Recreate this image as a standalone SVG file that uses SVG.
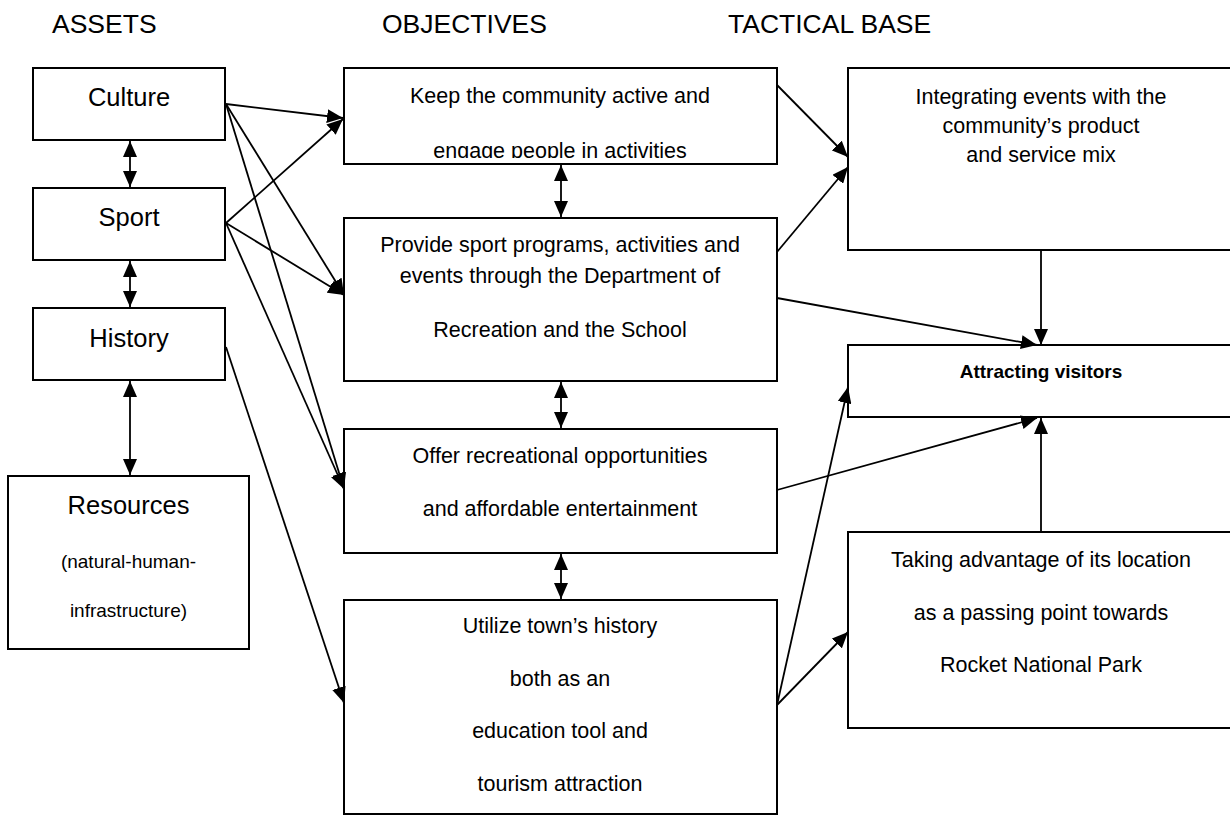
<svg xmlns="http://www.w3.org/2000/svg" width="1230" height="815" viewBox="0 0 1230 815">
<style>
text{font-family:"Liberation Sans",Arial,sans-serif;fill:#000;text-anchor:middle}
.hdr{font-size:26.5px;text-anchor:start}
.asset{font-size:25.5px}
.sub{font-size:19px}
.t{font-size:21.5px}
.b{font-size:19px;font-weight:bold}
.box{fill:#fff;stroke:#000;stroke-width:2}
.c{stroke:#000;stroke-width:1.8;fill:none}
</style>
<defs>
<marker id="ah" markerUnits="userSpaceOnUse" markerWidth="16" markerHeight="14" viewBox="0 0 16 14" refX="16" refY="7" orient="auto-start-reverse">
<path d="M0,0 L16,7 L0,14 z" fill="#000"/>
</marker>
<clipPath id="clipKeep"><rect x="344" y="68" width="433" height="90"/></clipPath>
</defs>
<rect width="1230" height="815" fill="#fff"/>
<g id="headers">
<text class="hdr" x="52" y="33">ASSETS</text>
<text class="hdr" x="382" y="33">OBJECTIVES</text>
<text class="hdr" x="728" y="33">TACTICAL BASE</text>
</g>
<g id="culture"><rect class="box" x="33" y="68" width="192" height="72"/><text class="asset" x="129" y="106">Culture</text></g>
<g id="sport"><rect class="box" x="33" y="188" width="192" height="72"/><text class="asset" x="129" y="226">Sport</text></g>
<g id="history"><rect class="box" x="33" y="308" width="192" height="72"/><text class="asset" x="129" y="347">History</text></g>
<g id="resources"><rect class="box" x="8" y="476" width="241" height="173"/><text class="asset" x="128.5" y="514">Resources</text><text class="sub" x="128.5" y="568">(natural-human-</text><text class="sub" x="128.5" y="617">infrastructure)</text></g>
<g id="keep"><rect class="box" x="344" y="68" width="433" height="96"/><text class="t" x="560" y="103">Keep the community active and</text><text class="t" x="560" y="158" clip-path="url(#clipKeep)">engage people in activities</text></g>
<g id="provide"><rect class="box" x="344" y="218" width="433" height="163"/><text class="t" x="560" y="252">Provide sport programs, activities and</text><text class="t" x="560" y="283">events through the Department of</text><text class="t" x="560" y="337">Recreation and the School</text></g>
<g id="offer"><rect class="box" x="344" y="429" width="433" height="124"/><text class="t" x="560" y="463">Offer recreational opportunities</text><text class="t" x="560" y="516">and affordable entertainment</text></g>
<g id="utilize"><rect class="box" x="344" y="600" width="433" height="214"/><text class="t" x="560" y="633">Utilize town’s history</text><text class="t" x="560" y="686">both as an</text><text class="t" x="560" y="738">education tool and</text><text class="t" x="560" y="791">tourism attraction</text></g>
<g id="integrating"><rect class="box" x="848" y="68" width="384" height="182"/><text class="t" x="1041" y="104">Integrating events with the</text><text class="t" x="1041" y="133">community’s product</text><text class="t" x="1041" y="162">and service mix</text></g>
<g id="attracting"><rect class="box" x="848" y="345" width="384" height="72"/><text class="b" x="1041" y="378">Attracting visitors</text></g>
<g id="taking"><rect class="box" x="848" y="532" width="384" height="196"/><text class="t" x="1041" y="567">Taking advantage of its location</text><text class="t" x="1041" y="620">as a passing point towards</text><text class="t" x="1041" y="672">Rocket National Park</text></g>
<g id="connectors">
<line class="c" x1="130" y1="141" x2="130" y2="187" marker-start="url(#ah)" marker-end="url(#ah)"/>
<line class="c" x1="130" y1="261" x2="130" y2="307" marker-start="url(#ah)" marker-end="url(#ah)"/>
<line class="c" x1="130" y1="381" x2="130" y2="475" marker-start="url(#ah)" marker-end="url(#ah)"/>
<line class="c" x1="561" y1="165" x2="561" y2="217" marker-start="url(#ah)" marker-end="url(#ah)"/>
<line class="c" x1="561" y1="382" x2="561" y2="428" marker-start="url(#ah)" marker-end="url(#ah)"/>
<line class="c" x1="561" y1="554" x2="561" y2="599" marker-start="url(#ah)" marker-end="url(#ah)"/>
<line class="c" x1="226" y1="104" x2="343" y2="118" marker-end="url(#ah)"/>
<line class="c" x1="226" y1="223" x2="343" y2="119" marker-end="url(#ah)"/>
<line class="c" x1="226" y1="104" x2="344" y2="295" marker-end="url(#ah)"/>
<line class="c" x1="226" y1="223" x2="344" y2="295" marker-end="url(#ah)"/>
<line class="c" x1="226" y1="104" x2="344" y2="489" marker-end="url(#ah)"/>
<line class="c" x1="226" y1="223" x2="344" y2="489" marker-end="url(#ah)"/>
<line class="c" x1="226" y1="347" x2="344" y2="703" marker-end="url(#ah)"/>
<line class="c" x1="777" y1="85" x2="848" y2="157" marker-end="url(#ah)"/>
<line class="c" x1="777" y1="252" x2="848" y2="167" marker-end="url(#ah)"/>
<line class="c" x1="777" y1="298" x2="1037" y2="345" marker-end="url(#ah)"/>
<line class="c" x1="1041" y1="250" x2="1041" y2="345" marker-end="url(#ah)"/>
<line class="c" x1="777" y1="490" x2="1037" y2="418" marker-end="url(#ah)"/>
<line class="c" x1="1041" y1="532" x2="1041" y2="418" marker-end="url(#ah)"/>
<line class="c" x1="777" y1="705" x2="848" y2="387" marker-end="url(#ah)"/>
<line class="c" x1="777" y1="705" x2="848" y2="632" marker-end="url(#ah)"/>
</g>
</svg>
